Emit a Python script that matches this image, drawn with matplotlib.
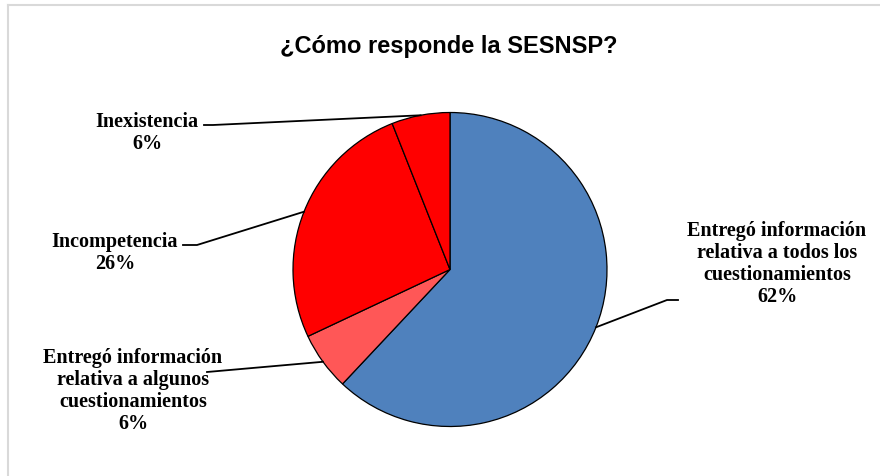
import matplotlib
matplotlib.use("Agg")
import matplotlib.pyplot as plt
from matplotlib.lines import Line2D
import numpy as np

# ---- data ----
categories = [
    "Entregó información\nrelativa a todos los\ncuestionamientos",
    "Entregó información\nrelativa a algunos\ncuestionamientos",
    "Incompetencia",
    "Inexistencia",
]
values = [62, 6, 26, 6]
pct_labels = ["62%", "6%", "26%", "6%"]
colors = ["#4F81BD", "#FF5757", "#FF0000", "#FF0000"]
title = "¿Cómo responde la SESNSP?"

W, H = 880, 477
fig = plt.figure(figsize=(W / 100, H / 100), dpi=100)
fig.patch.set_facecolor("white")

def fx(x):
    return x / W

def fy(y):
    return 1 - y / H

# chart frame (partially visible)
fig.add_artist(Line2D([fx(8), fx(880)], [fy(6), fy(6)], transform=fig.transFigure,
                      color="#D9D9D9", lw=1.5))
fig.add_artist(Line2D([fx(8), fx(8)], [fy(6), fy(477)], transform=fig.transFigure,
                      color="#D9D9D9", lw=1.5))

# pie axes
cx, cy, r = 450, 270.5, 157
ax = fig.add_axes([fx(cx - r), fy(cy + r), 2 * r / W, 2 * r / H])
wedges, _ = ax.pie(values, colors=colors, startangle=90, counterclock=False,
                   radius=1, wedgeprops=dict(edgecolor="black", linewidth=0.9))
ax.set_xlim(-1, 1)
ax.set_ylim(-1, 1)
ax.set_aspect("equal")
ax.axis("off")

fig.text(fx(449), fy(46), title, ha="center", va="center", fontsize=17,
         fontweight="bold", family="Liberation Sans")

label_font = dict(family="Liberation Serif", fontweight="bold", fontsize=14.5)

# label layout: (text center x, text center y, elbow start, elbow end) in pixels
layout = [
    dict(tx=777, ty=264, p0=(678, 301), p1=(667, 301)),
    dict(tx=133, ty=391, p0=(207, 373), p1=(207, 373)),
    dict(tx=115, ty=253, p0=(183, 246), p1=(197, 246)),
    dict(tx=147, ty=133, p0=(204, 126), p1=(213, 126)),
]

fig.canvas.draw()
for w, cat, pct, lay in zip(wedges, categories, pct_labels, layout):
    mid = np.deg2rad((w.theta1 + w.theta2) / 2)
    ex, ey = ax.transData.transform((np.cos(mid), np.sin(mid)))
    ex, ey = ex / W, ey / H
    xs = [fx(lay["p0"][0]), fx(lay["p1"][0]), ex]
    ys = [fy(lay["p0"][1]), fy(lay["p1"][1]), ey]
    fig.add_artist(Line2D(xs, ys, transform=fig.transFigure, color="black", lw=1.3))
    fig.text(fx(lay["tx"]), fy(lay["ty"]), cat + "\n" + pct, ha="center", va="center",
             multialignment="center", linespacing=1.15, **label_font)

fig.savefig("out.png", dpi=100, facecolor="white")
